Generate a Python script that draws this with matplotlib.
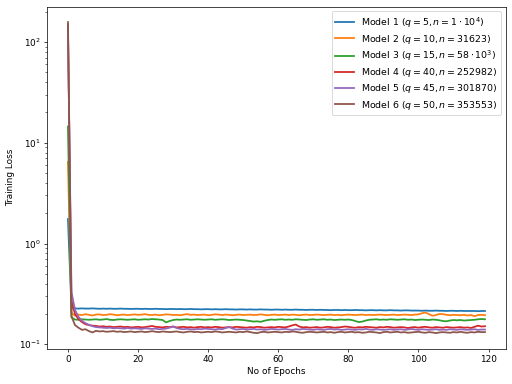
import matplotlib
matplotlib.use('Agg')
import matplotlib.pyplot as plt

epochs = list(range(120))

labels = [
    r'Model 1 ($q = 5, n = 1 \cdot 10^4$)',
    r'Model 2 ($q = 10, n = 31623$)',
    r'Model 3 ($q = 15, n = 58 \cdot 10^3$)',
    r'Model 4 ($q = 40, n = 252982$)',
    r'Model 5 ($q = 45, n = 301870$)',
    r'Model 6 ($q = 50, n = 353553$)',
]

loss_m1 = [1.75, 0.228, 0.227, 0.226, 0.227, 0.226, 0.226, 0.227, 0.226, 0.225,
           0.226, 0.225, 0.226, 0.225, 0.225, 0.226, 0.225, 0.225, 0.224, 0.225,
           0.225, 0.224, 0.225, 0.224, 0.224, 0.225, 0.224, 0.224, 0.223, 0.224,
           0.224, 0.223, 0.224, 0.223, 0.223, 0.224, 0.223, 0.223, 0.222, 0.223,
           0.223, 0.222, 0.223, 0.222, 0.222, 0.223, 0.222, 0.222, 0.221, 0.222,
           0.222, 0.221, 0.222, 0.221, 0.221, 0.222, 0.221, 0.221, 0.220, 0.221,
           0.221, 0.220, 0.221, 0.220, 0.220, 0.221, 0.220, 0.220, 0.219, 0.220,
           0.220, 0.219, 0.220, 0.219, 0.219, 0.218, 0.219, 0.219, 0.218, 0.219,
           0.218, 0.218, 0.219, 0.218, 0.218, 0.217, 0.218, 0.218, 0.217, 0.218,
           0.217, 0.217, 0.218, 0.217, 0.217, 0.216, 0.217, 0.217, 0.216, 0.216,
           0.216, 0.215, 0.216, 0.215, 0.215, 0.216, 0.215, 0.215, 0.214, 0.215,
           0.215, 0.214, 0.215, 0.214, 0.214, 0.214, 0.214, 0.213, 0.214, 0.214]

loss_m2 = [6.46, 0.205, 0.192, 0.197, 0.195, 0.199, 0.196, 0.193, 0.197, 0.198,
           0.195, 0.196, 0.199, 0.197, 0.194, 0.196, 0.197, 0.195, 0.196, 0.198,
           0.196, 0.197, 0.199, 0.196, 0.195, 0.197, 0.194, 0.196, 0.198, 0.197,
           0.195, 0.196, 0.194, 0.197, 0.199, 0.196, 0.197, 0.195, 0.196, 0.197,
           0.194, 0.196, 0.198, 0.197, 0.195, 0.197, 0.196, 0.194, 0.196, 0.197,
           0.195, 0.196, 0.197, 0.195, 0.196, 0.198, 0.196, 0.194, 0.196, 0.197,
           0.195, 0.196, 0.197, 0.195, 0.197, 0.196, 0.194, 0.196, 0.197, 0.195,
           0.196, 0.197, 0.196, 0.195, 0.196, 0.197, 0.195, 0.196, 0.194, 0.196,
           0.197, 0.196, 0.195, 0.196, 0.197, 0.195, 0.196, 0.195, 0.196, 0.197,
           0.196, 0.195, 0.196, 0.197, 0.195, 0.196, 0.197, 0.196, 0.195, 0.197,
           0.198, 0.203, 0.207, 0.199, 0.192, 0.195, 0.200, 0.199, 0.196, 0.194,
           0.196, 0.195, 0.194, 0.196, 0.193, 0.195, 0.190, 0.195, 0.196, 0.194]

loss_m3 = [14.5, 0.185, 0.176, 0.175, 0.177, 0.176, 0.175, 0.176, 0.177, 0.175,
           0.176, 0.178, 0.175, 0.174, 0.176, 0.177, 0.176, 0.175, 0.176, 0.177,
           0.175, 0.176, 0.177, 0.176, 0.178, 0.177, 0.176, 0.174, 0.165, 0.170,
           0.174, 0.176, 0.175, 0.176, 0.177, 0.175, 0.176, 0.177, 0.176, 0.175,
           0.176, 0.177, 0.175, 0.176, 0.177, 0.176, 0.174, 0.175, 0.176, 0.175,
           0.174, 0.172, 0.170, 0.168, 0.169, 0.167, 0.171, 0.174, 0.176, 0.175,
           0.176, 0.177, 0.175, 0.176, 0.175, 0.177, 0.176, 0.175, 0.174, 0.176,
           0.177, 0.175, 0.176, 0.177, 0.175, 0.176, 0.174, 0.175, 0.176, 0.175,
           0.176, 0.174, 0.170, 0.166, 0.168, 0.172, 0.175, 0.176, 0.177, 0.175,
           0.176, 0.175, 0.177, 0.176, 0.175, 0.176, 0.177, 0.175, 0.176, 0.174,
           0.175, 0.176, 0.175, 0.174, 0.176, 0.175, 0.173, 0.170, 0.169, 0.172,
           0.174, 0.173, 0.174, 0.172, 0.173, 0.174, 0.175, 0.177, 0.178, 0.177]

loss_m4 = [150.0, 0.27, 0.20, 0.178, 0.166, 0.158, 0.155, 0.153, 0.152, 0.150,
           0.151, 0.149, 0.150, 0.148, 0.149, 0.150, 0.148, 0.149, 0.147, 0.148,
           0.149, 0.147, 0.148, 0.150, 0.152, 0.149, 0.148, 0.147, 0.149, 0.148,
           0.150, 0.147, 0.148, 0.149, 0.147, 0.148, 0.146, 0.148, 0.149, 0.147,
           0.148, 0.147, 0.149, 0.148, 0.146, 0.147, 0.148, 0.147, 0.149, 0.148,
           0.147, 0.146, 0.148, 0.147, 0.149, 0.148, 0.146, 0.147, 0.148, 0.147,
           0.149, 0.148, 0.147, 0.150, 0.154, 0.157, 0.150, 0.147, 0.148, 0.146,
           0.147, 0.148, 0.146, 0.147, 0.149, 0.148, 0.146, 0.147, 0.148, 0.150,
           0.149, 0.147, 0.146, 0.148, 0.147, 0.149, 0.148, 0.147, 0.146, 0.148,
           0.147, 0.149, 0.148, 0.146, 0.147, 0.148, 0.147, 0.145, 0.147, 0.148,
           0.146, 0.148, 0.149, 0.147, 0.146, 0.148, 0.147, 0.146, 0.148, 0.147,
           0.146, 0.147, 0.148, 0.146, 0.147, 0.145, 0.149, 0.153, 0.150, 0.151]

loss_m5 = [140.0, 0.33, 0.22, 0.187, 0.171, 0.162, 0.156, 0.151, 0.148, 0.147,
           0.146, 0.145, 0.146, 0.144, 0.145, 0.144, 0.143, 0.145, 0.143, 0.144,
           0.143, 0.142, 0.144, 0.143, 0.142, 0.143, 0.141, 0.142, 0.143, 0.146,
           0.150, 0.145, 0.142, 0.141, 0.142, 0.141, 0.140, 0.142, 0.141, 0.143,
           0.142, 0.141, 0.140, 0.142, 0.141, 0.145, 0.148, 0.143, 0.140, 0.141,
           0.142, 0.140, 0.141, 0.142, 0.140, 0.141, 0.139, 0.140, 0.142, 0.141,
           0.140, 0.141, 0.142, 0.140, 0.139, 0.141, 0.140, 0.142, 0.141, 0.140,
           0.139, 0.141, 0.140, 0.139, 0.141, 0.142, 0.140, 0.141, 0.139, 0.140,
           0.141, 0.140, 0.139, 0.141, 0.140, 0.142, 0.140, 0.139, 0.141, 0.140,
           0.139, 0.140, 0.141, 0.139, 0.140, 0.141, 0.139, 0.140, 0.142, 0.140,
           0.139, 0.141, 0.140, 0.139, 0.140, 0.141, 0.139, 0.140, 0.139, 0.141,
           0.140, 0.139, 0.141, 0.140, 0.139, 0.140, 0.141, 0.139, 0.140, 0.140]

loss_m6 = [158.0, 0.19, 0.155, 0.146, 0.139, 0.141, 0.135, 0.131, 0.136, 0.134,
           0.135, 0.133, 0.134, 0.135, 0.133, 0.134, 0.132, 0.133, 0.134, 0.132,
           0.133, 0.134, 0.132, 0.133, 0.135, 0.133, 0.132, 0.134, 0.133, 0.132,
           0.133, 0.134, 0.132, 0.131, 0.133, 0.134, 0.132, 0.133, 0.131, 0.132,
           0.133, 0.132, 0.134, 0.133, 0.131, 0.132, 0.133, 0.132, 0.131, 0.133,
           0.132, 0.134, 0.132, 0.130, 0.129, 0.132, 0.133, 0.131, 0.132, 0.133,
           0.132, 0.131, 0.133, 0.132, 0.134, 0.133, 0.131, 0.130, 0.132, 0.133,
           0.132, 0.131, 0.132, 0.133, 0.131, 0.132, 0.130, 0.132, 0.133, 0.131,
           0.132, 0.133, 0.131, 0.132, 0.130, 0.131, 0.133, 0.132, 0.131, 0.129,
           0.132, 0.133, 0.131, 0.132, 0.133, 0.131, 0.132, 0.130, 0.131, 0.132,
           0.133, 0.131, 0.130, 0.132, 0.131, 0.129, 0.131, 0.132, 0.131, 0.130,
           0.132, 0.131, 0.133, 0.131, 0.130, 0.132, 0.131, 0.133, 0.132, 0.132]

series = [loss_m1, loss_m2, loss_m3, loss_m4, loss_m5, loss_m6]

plt.rcParams['font.size'] = 10.5

fig = plt.figure(figsize=(8, 6), dpi=64)
ax = fig.add_subplot(1, 1, 1)
fig.subplots_adjust(left=0.092, right=0.988, top=0.983, bottom=0.092)

for loss, label in zip(series, labels):
    ax.plot(epochs, loss, label=label, linewidth=2)

ax.set_yscale('log')
ax.set_xlabel('No of Epochs', fontsize=10)
ax.set_ylabel('Training Loss', fontsize=10)
ax.tick_params(labelsize=10)
ax.legend(loc='upper right', labelspacing=0.33)

fig.savefig('out.png', dpi=64)
